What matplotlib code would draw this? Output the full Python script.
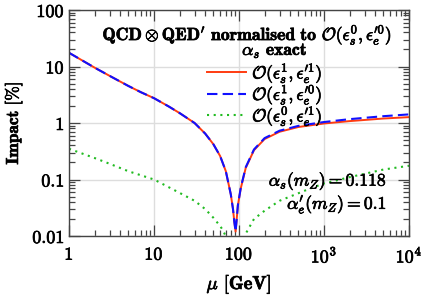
import matplotlib
matplotlib.use("Agg")
import matplotlib.pyplot as plt
import matplotlib.patheffects as pe
from matplotlib.ticker import LogLocator, NullFormatter, FixedLocator, FixedFormatter
import numpy as np

plt.rcParams['mathtext.fontset'] = 'cm'

# --- data ---
mu_red = [1, 2, 3, 5, 7, 10, 15, 20, 30, 40, 50, 60, 70, 80, 85, 88, 91.2,
          94, 97, 105, 120, 150, 200, 300, 500, 1000, 2000, 5000, 10000]
red = [17.5, 9.55, 6.84, 4.52, 3.51, 2.75, 1.95, 1.5, 1.0, 0.65, 0.42, 0.26, 0.14,
       0.055, 0.03, 0.018, 0.012, 0.02, 0.035, 0.07, 0.16, 0.33, 0.52, 0.70,
       0.85, 0.98, 1.08, 1.2, 1.27]
blue = [17.5, 9.55, 6.84, 4.52, 3.51, 2.75, 1.95, 1.5, 1.0, 0.65, 0.42, 0.26, 0.14,
        0.055, 0.03, 0.018, 0.012, 0.02, 0.035, 0.072, 0.165, 0.34, 0.54, 0.73,
        0.89, 1.04, 1.17, 1.32, 1.42]
mu_green = [1, 2, 3, 5, 10, 20, 30, 40, 50, 60, 65, 70, 75,
            110, 120, 150, 200, 300, 700, 1000, 2000, 5000, 10000]
green = [0.35, 0.24, 0.19, 0.14, 0.10, 0.058, 0.042, 0.030, 0.021, 0.015, 0.0125,
         0.0098, 0.007,
         0.007, 0.011, 0.02, 0.028, 0.042, 0.07, 0.085, 0.11, 0.15, 0.175]

xticks = [1, 10, 100, 1000, 10000]
xticklabels = [r'$\mathbf{1}$', r'$\mathbf{10}$', r'$\mathbf{100}$',
               r'$\mathbf{10^3}$', r'$\mathbf{10^4}$']
yticks = [0.01, 0.1, 1, 10, 100]
yticklabels = [r'$\mathbf{0.01}$', r'$\mathbf{0.1}$', r'$\mathbf{1}$',
               r'$\mathbf{10}$', r'$\mathbf{100}$']

labels = [r'$\mathcal{O}(\epsilon_s^1,\epsilon_e^{\prime 1})$',
          r'$\mathcal{O}(\epsilon_s^1,\epsilon_e^{\prime 0})$',
          r'$\mathcal{O}(\epsilon_s^0,\epsilon_e^{\prime 1})$']

bold = [pe.withStroke(linewidth=0.5, foreground='black')]
FS = 12.7

fig = plt.figure(figsize=(4.24, 2.98), dpi=100)
ax = fig.add_axes([69/424, 1-236/298, 340/424, 226/298])
ax.set_xscale('log')
ax.set_yscale('log')
ax.set_xlim(1, 1e4)
ax.set_ylim(0.01, 100)

ax.plot(mu_red, red, color='#ff3b10', lw=1.4, label=labels[0])
ax.plot(mu_red, blue, color='#1010ff', lw=1.5, ls=(0, (5, 2.5)), label=labels[1])
ax.plot(mu_green, green, color='#22bb22', lw=1.5, ls=(0, (1, 2.2)), label=labels[2])

ax.grid(True, which='major', color='#dddddd', lw=1.0)
ax.set_axisbelow(True)
ax.xaxis.set_major_locator(FixedLocator(xticks))
ax.xaxis.set_major_formatter(FixedFormatter(xticklabels))
ax.yaxis.set_major_locator(FixedLocator(yticks))
ax.yaxis.set_major_formatter(FixedFormatter(yticklabels))
ax.xaxis.set_minor_locator(LogLocator(base=10, subs=np.arange(2, 10)))
ax.yaxis.set_minor_locator(LogLocator(base=10, subs=np.arange(2, 10)))
ax.xaxis.set_minor_formatter(NullFormatter())
ax.yaxis.set_minor_formatter(NullFormatter())
ax.tick_params(which='both', direction='in', top=True, right=True,
               color='#444444', width=0.9)
ax.tick_params(which='major', length=8, labelsize=13)
ax.tick_params(axis='x', which='major', pad=7)
ax.tick_params(axis='y', which='major', pad=3)
ax.tick_params(which='minor', length=4.5)
for s in ax.spines.values():
    s.set_color('#444444')
    s.set_linewidth(1.0)
for t in ax.get_xticklabels() + ax.get_yticklabels():
    t.set_path_effects(bold)

ax.set_xlabel(r'$\mu$ $\mathbf{[GeV]}$', fontsize=13.5, path_effects=bold)
ax.xaxis.set_label_coords(0.5, -0.16)
ax.set_ylabel(r'$\mathbf{Impact\ [\%]}$', fontsize=12.5, path_effects=bold)
ax.yaxis.set_label_coords(-0.13, 0.5)

ax.text(0.524, 0.867,
        r'$\mathbf{QCD}\otimes\mathbf{QED}^{\prime}$ $\mathbf{normalised\ to}$ $\mathcal{O}(\epsilon_s^0,\epsilon_e^{\prime 0})$',
        transform=ax.transAxes, ha='center', va='baseline', fontsize=FS,
        path_effects=bold)
ax.text(0.509, 0.801, r'$\alpha_s$ $\mathbf{exact}$', transform=ax.transAxes,
        ha='left', va='baseline', fontsize=FS, path_effects=bold)

leg = ax.legend(loc='upper left', bbox_to_anchor=(0.406, 0.775), frameon=False,
                fontsize=FS, handlelength=2.2, handletextpad=0.35,
                labelspacing=-0.2, borderpad=0.0, borderaxespad=0.0)
for t in leg.get_texts():
    t.set_path_effects(bold)

ax.text(0.935, 0.243, r'$\alpha_s(m_Z) = \mathbf{0.118}$', transform=ax.transAxes,
        ha='right', va='center', fontsize=FS, path_effects=bold)
ax.text(0.935, 0.14, r"$\alpha_e^{\prime}(m_Z) = \mathbf{0.1}$", transform=ax.transAxes,
        ha='right', va='center', fontsize=FS, path_effects=bold)

fig.savefig('out.png', dpi=100)
